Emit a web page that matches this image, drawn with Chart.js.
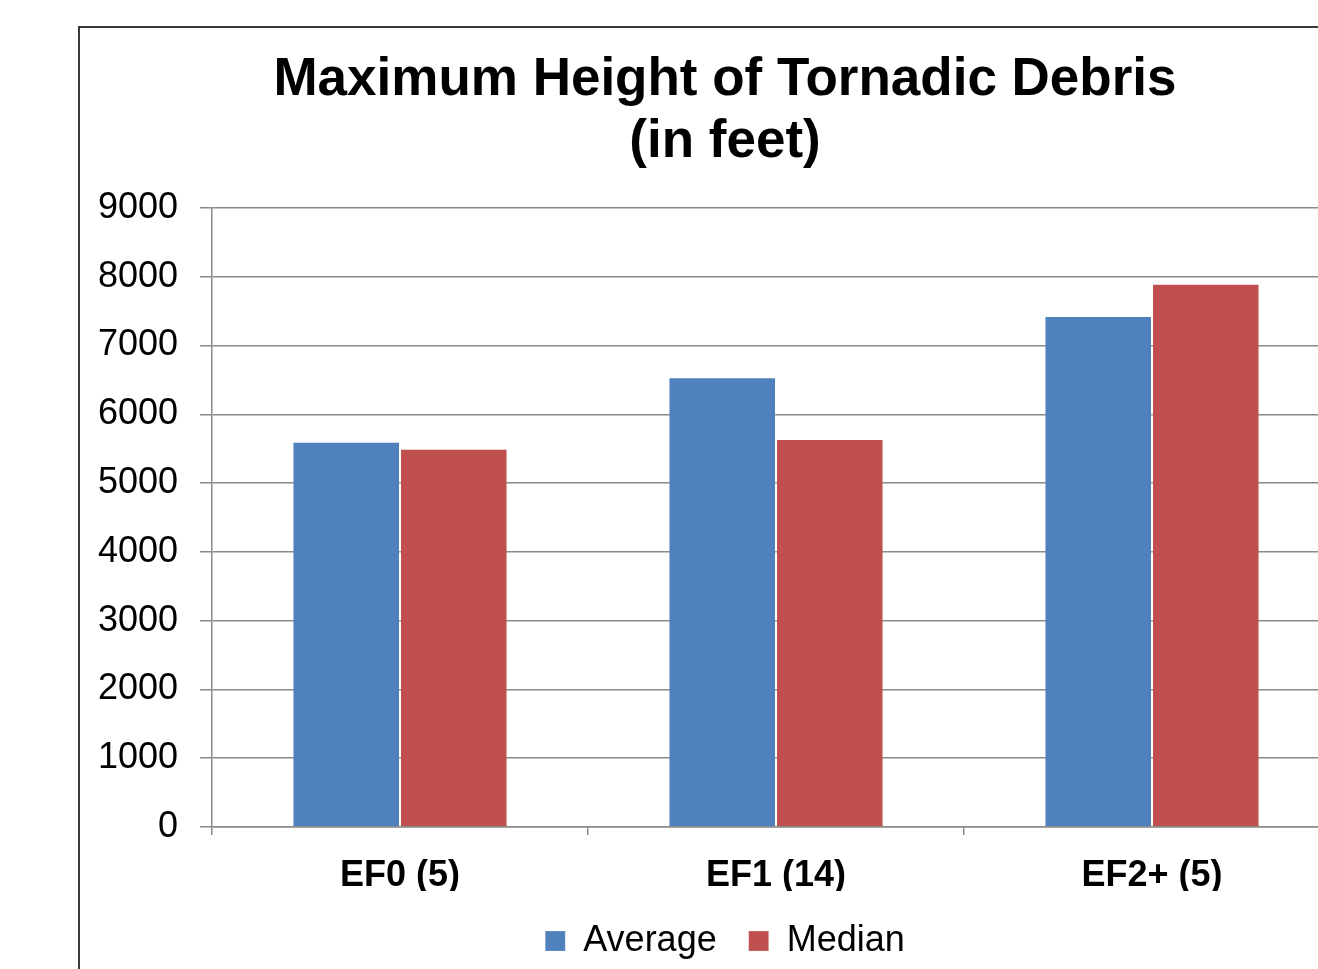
<!DOCTYPE html>
<html>
<head>
<meta charset="utf-8">
<script src="https://cdn.jsdelivr.net/npm/chart.js@4/dist/chart.umd.min.js"></script>
<style>
  html, body { margin: 0; padding: 0; background: #fff; overflow: hidden; }
  #frame {
    position: absolute; left: 78px; top: 26px;
    width: 1400px; height: 1100px;
    border: 2px solid #3a3a3a; box-sizing: border-box;
  }
  #wrap { position: absolute; left: 0; top: 0; width: 1450px; height: 969px; }
</style>
</head>
<body>
<div id="frame"></div>
<div id="wrap"><canvas id="chart"></canvas></div>
<script>
const categories = ['EF0 (5)', 'EF1 (14)', 'EF2+ (5)']
const averageHeights = [5600, 6540, 7430]
const medianHeights = [5500, 5640, 7900]
const seriesNames = ['Average', 'Median']
const titleLines = ['Maximum Height of Tornadic Debris', '(in feet)']

const fontFamily = '"Liberation Sans", Arial, Helvetica, sans-serif'
const gridColor = '#8a8a8a'

new Chart(document.getElementById('chart'), {
  type: 'bar',
  data: {
    labels: categories,
    datasets: [
      {label: seriesNames[0], data: averageHeights, backgroundColor: '#4f81bd', borderColor: 'rgba(255,255,255,0.2)', borderWidth: 1},
      {label: seriesNames[1], data: medianHeights, backgroundColor: '#c0504d', borderColor: 'rgba(255,255,255,0.2)', borderWidth: 1}
    ]
  },
  options: {
    responsive: true,
    maintainAspectRatio: false,
    animation: false,
    layout: {padding: {left: 0, right: 0, top: 0, bottom: 0}},
    datasets: {bar: {categoryPercentage: 0.572, barPercentage: 1}},
    plugins: {
      title: {
        display: true,
        text: titleLines,
        color: '#000',
        font: {family: fontFamily, size: 53, weight: 'bold', lineHeight: 1.17},
        padding: {top: 49, bottom: 35}
      },
      legend: {
        position: 'bottom',
        labels: {
          color: '#000',
          font: {family: fontFamily, size: 36},
          boxWidth: 20,
          boxHeight: 20,
          padding: 32
        }
      },
      tooltip: {enabled: false}
    },
    scales: {
      x: {
        grid: {drawOnChartArea: false, drawTicks: true, tickLength: 8, color: gridColor, lineWidth: 1.5},
        border: {display: true, color: gridColor, width: 1.5},
        ticks: {color: '#000', font: {family: fontFamily, size: 36, weight: 'bold'}, padding: 19},
        afterFit(scale) { scale.height = 64 }
      },
      y: {
        min: 0,
        max: 9000,
        grid: {color: gridColor, lineWidth: 1.5, tickLength: 12},
        border: {display: true, color: gridColor, width: 1.5},
        ticks: {
          stepSize: 1000,
          color: '#000',
          font: {family: fontFamily, size: 36},
          padding: 22,
          callback: v => String(v)
        },
        afterFit(scale) { scale.width = 212 }
      },
      // empty right-hand axis: keeps the plot ending at 1340 while the
      // title and legend stay centred on the framed area
      yRight: {
        axis: 'y',
        position: 'right',
        grid: {drawOnChartArea: false, drawTicks: false},
        border: {display: false},
        ticks: {display: false},
        afterFit(scale) { scale.width = 110 }
      }
    }
  }
})
</script>
</body>
</html>
